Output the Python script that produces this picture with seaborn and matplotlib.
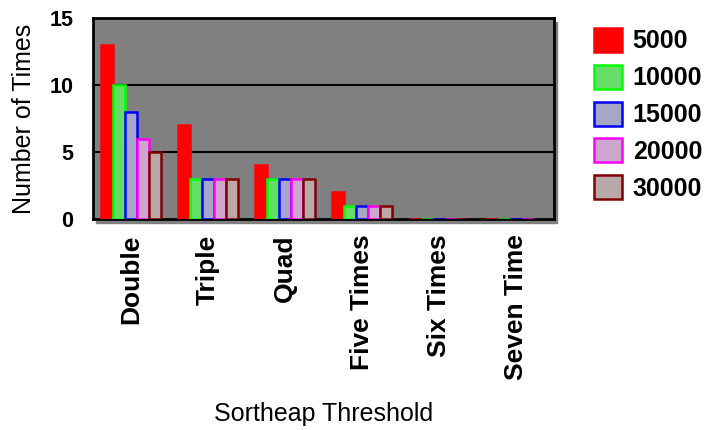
import pandas as pd
import matplotlib.pyplot as plt
import matplotlib.patches as mpatches
import seaborn as sns

thresholds = ["Double", "Triple", "Quad", "Five Times", "Six Times", "Seven Time"]
sizes = ["5000", "10000", "15000", "20000", "30000"]
counts_5000 = [13, 7, 4, 2, 0, 0]
counts_10000 = [10, 3, 3, 1, 0, 0]
counts_15000 = [8, 3, 3, 1, 0, 0]
counts_20000 = [6, 3, 3, 1, 0, 0]
counts_30000 = [5, 3, 3, 1, 0, None]

fills = ["#ff0000", "#66dd66", "#a6a6c8", "#cca6cc", "#b8a8a8"]
edges = ["#ff0000", "#00ff00", "#0000ff", "#ff00ff", "#800000"]

rows = []
for s, vals in zip(sizes, [counts_5000, counts_10000, counts_15000, counts_20000, counts_30000]):
    for t, v in zip(thresholds, vals):
        rows.append({"threshold": t, "size": s, "count": v})
data = pd.DataFrame(rows)

sns.set_style("white")
plt.rcParams['font.family'] = ['Liberation Sans', 'DejaVu Sans']
plt.rcParams['text.color'] = 'black'
plt.rcParams['axes.labelcolor'] = 'black'
plt.rcParams['xtick.color'] = 'black'
plt.rcParams['ytick.color'] = 'black'

fig = plt.figure(figsize=(7.07, 4.30), dpi=100)
ax = fig.add_axes([0.1315, 0.4907, 0.652, 0.4673])

# drop shadow behind the plot area
shadow = mpatches.Rectangle((0.1315 + 0.004, 0.4907 - 0.009), 0.652, 0.4673,
                            transform=fig.transFigure, color="#808080", zorder=-10)
fig.patches.append(shadow)

sns.barplot(data=data, x="threshold", y="count", hue="size", hue_order=sizes,
            order=thresholds, palette=fills, saturation=1, width=0.78, gap=0,
            linewidth=1.8, ax=ax, legend=False)
for cont, ec in zip(ax.containers, edges):
    for bar in cont:
        bar.set_edgecolor(ec)
        bar.set_zorder(3)

ax.set_facecolor("#808080")
ax.set_ylim(0, 15)
ax.set_yticks([0, 5, 10, 15])
for y in [5, 10]:
    ax.axhline(y, color="black", lw=1.5, zorder=1)
for sp in ax.spines.values():
    sp.set_visible(True)
    sp.set_color("black")
    sp.set_linewidth(2)
ax.tick_params(length=0)
ax.tick_params(axis="y", pad=14)
ax.tick_params(axis="x", pad=11)
ax.set_yticklabels(["0", "5", "10", "15"], fontsize=15.5, fontweight="bold")
ax.set_xticks(range(len(thresholds)))
ax.set_xticklabels(thresholds, rotation=90, fontsize=19, fontweight="bold")
ax.set_xlabel("Sortheap Threshold", fontsize=18, labelpad=16)
ax.set_ylabel("Number of Times", fontsize=18, labelpad=10)

handles = [mpatches.Patch(facecolor=f, edgecolor=e, linewidth=1.8) for f, e in zip(fills, edges)]
fig.legend(handles, sizes, loc="upper left", bbox_to_anchor=(594 / 707, 1 - 28 / 430), frameon=False,
           prop={"weight": "bold", "size": 18}, handlelength=1.1, handleheight=1.1,
           labelspacing=0.45, handletextpad=0.45, borderpad=0, borderaxespad=0)

plt.savefig("out.png", dpi=100)
